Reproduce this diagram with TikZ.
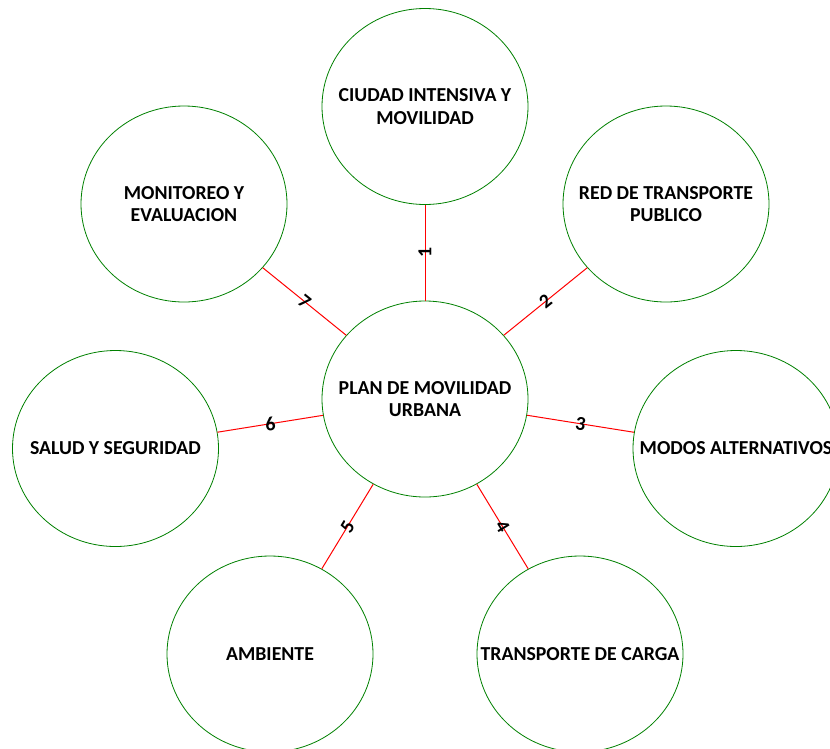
\documentclass[tikz,border=0pt]{standalone}
\usepackage{fontspec}
\setmainfont{Carlito}
\usetikzlibrary{positioning,shapes.geometric}
\def\rx{206pt}
\def\ry{196pt}
\tikzstyle{topic}=[draw=green!50!black,ellipse,minimum width=\rx,minimum height=\ry,inner sep=0pt]
\tikzstyle{topictext}=[inner sep=0pt,align=center,font=\bfseries\fontsize{19.8}{22.4}\selectfont]
\tikzstyle{link}=[draw=red,line width=1pt]
\newcommand{\newTopic}[3]{\node[topic](#1) at (#3){};
    \node[topictext] at (#1) {#2};}
\newcommand{\newLink}[2]{\path (plan) edge [link] node[sloped,inner sep=0pt,
    font=\bfseries\fontsize{19.8}{22}\selectfont] {#2} (#1);}

\begin{document}
\begin{tikzpicture}[x=1pt,y=-1pt,line width=0.8pt]
    \useasboundingbox (0,0) rectangle (830,748);
    \clip (0,0) rectangle (830,748);
    \newTopic{plan}{PLAN DE MOVILIDAD\\URBANA}{425,399}
    \newTopic{ciudad}{CIUDAD INTENSIVA Y\\MOVILIDAD}{425,106.5}
    \newTopic{red}{RED DE TRANSPORTE\\PUBLICO}{666,204}
    \newTopic{modos}{MODOS ALTERNATIVOS}{736,448.5}
    \newTopic{carga}{TRANSPORTE DE CARGA}{580,654}
    \newTopic{ambiente}{AMBIENTE}{270,654}
    \newTopic{salud}{SALUD Y SEGURIDAD}{115.5,448.5}
    \newTopic{monitoreo}{MONITOREO Y\\EVALUACION}{184,204}
    \newLink{ciudad}{1}
    \newLink{red}{2}
    \newLink{modos}{3}
    \newLink{carga}{4}
    \newLink{ambiente}{5}
    \newLink{salud}{6}
    \newLink{monitoreo}{7}
\end{tikzpicture}
\end{document}
